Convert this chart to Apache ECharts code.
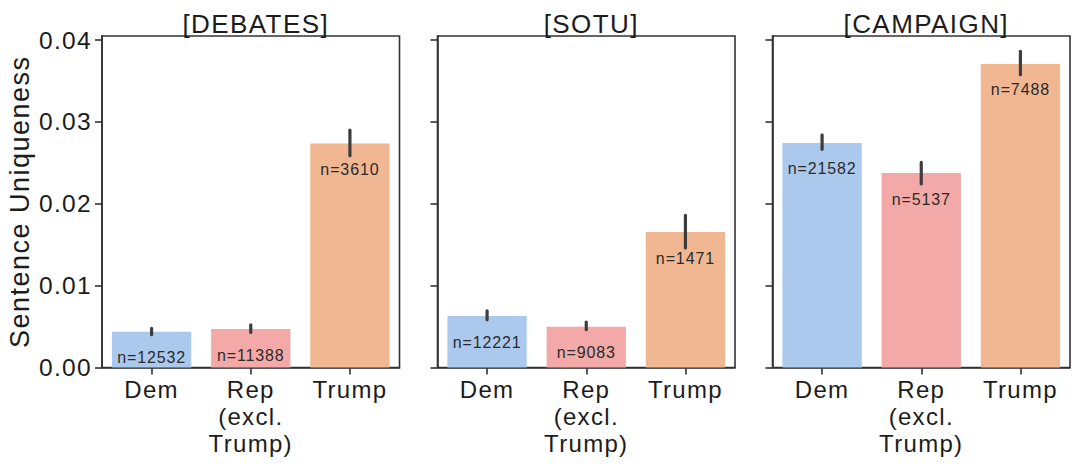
<!DOCTYPE html>
<html>
<head>
<meta charset="utf-8">
<script src="https://cdn.jsdelivr.net/npm/echarts@6/dist/echarts.min.js"></script>
<style>
html,body{margin:0;padding:0;background:#fff;}
#chart{width:1079px;height:468px;}
#chart text{letter-spacing:0.055em;}
</style>
</head>
<body>
<div id="chart"></div>
<script>
// ---- data ----
const categories = ['Dem', 'Rep\n(excl.\nTrump)', 'Trump'];
const panelTitles = ['[DEBATES]', '[SOTU]', '[CAMPAIGN]'];
const yTicks = [0, 0.01, 0.02, 0.03, 0.04];

const debatesMean = [0.00436, 0.00469, 0.02738];
const debatesLow  = [0.00400, 0.00428, 0.02588];
const debatesHigh = [0.00477, 0.00522, 0.02900];
const debatesN    = [12532, 11388, 3610];

const sotuMean = [0.00628, 0.00498, 0.01655];
const sotuLow  = [0.00583, 0.00461, 0.01460];
const sotuHigh = [0.00693, 0.00555, 0.01858];
const sotuN    = [12221, 9083, 1471];

const campaignMean = [0.02743, 0.02376, 0.03709];
const campaignLow  = [0.02665, 0.02242, 0.03578];
const campaignHigh = [0.02841, 0.02506, 0.03863];
const campaignN    = [21582, 5137, 7488];

// ---- styles ----
const barColors = ['#abc9ec', '#f3a9a8', '#f0b792'];
const FONT = "'Liberation Sans', Arial, Helvetica, sans-serif";
const INK = '#1c1c1c';
const SPINE = '#333333';

const panels = [
  {mean: debatesMean, low: debatesLow, high: debatesHigh, n: debatesN},
  {mean: sotuMean, low: sotuLow, high: sotuHigh, n: sotuN},
  {mean: campaignMean, low: campaignLow, high: campaignHigh, n: campaignN}
];

const gridLefts = [102, 437.5, 772.5];
const gridW = 297.5;
const gridTop = 36;
const gridH = 331.5;

const grids = [], xAxes = [], yAxes = [], series = [], titles = [];
panels.forEach((p, i) => {
  grids.push({left: gridLefts[i], top: gridTop, width: gridW, height: gridH,
    show: true, borderColor: SPINE, borderWidth: 1.6, backgroundColor: 'transparent', containLabel: false});
  titles.push({text: panelTitles[i], left: gridLefts[i] + gridW / 2, top: 4, textAlign: 'center',
    textStyle: {fontFamily: FONT, fontSize: 26, fontWeight: 'normal', color: INK, lineHeight: 30}});
  xAxes.push({type: 'category', gridIndex: i, data: categories,
    axisLine: {show: true, lineStyle: {color: SPINE, width: 1.6}},
    axisTick: {show: true, alignWithLabel: true, length: 7, lineStyle: {color: SPINE, width: 1.6}},
    axisLabel: {fontFamily: FONT, fontSize: 24, color: INK, lineHeight: 27, margin: 8, interval: 0},
    splitLine: {show: false}});
  yAxes.push({type: 'value', gridIndex: i, min: 0, max: 0.0405,
    name: i === 0 ? 'Sentence Uniqueness' : '', nameLocation: 'middle', nameGap: 69, nameRotate: 90,
    nameTextStyle: {fontFamily: FONT, fontSize: 27, color: INK},
    axisLine: {show: true, lineStyle: {color: SPINE, width: 1.6}},
    axisTick: {show: true, length: 7, customValues: yTicks, lineStyle: {color: SPINE, width: 1.6}},
    axisLabel: {show: i === 0, customValues: yTicks, fontFamily: FONT, fontSize: 24.5, color: INK, margin: 10,
      formatter: v => v.toFixed(2)},
    splitLine: {show: false}});
  series.push({type: 'bar', xAxisIndex: i, yAxisIndex: i, barCategoryGap: '20%',
    data: p.mean.map((v, k) => ({value: v, n: p.n[k]})),
    itemStyle: {color: params => barColors[params.dataIndex]},
    label: {show: true, position: 'insideTop', distance: 18, fontFamily: FONT, fontSize: 16, color: '#2b2b2b',
      formatter: params => 'n=' + params.data.n},
    emphasis: {disabled: true}, animation: false});
  series.push({type: 'custom', xAxisIndex: i, yAxisIndex: i, z: 10,
    data: p.low.map((lo, k) => [k, lo, p.high[k]]),
    renderItem: (params, api) => {
      const a = api.coord([api.value(0), api.value(1)]);
      const b = api.coord([api.value(0), api.value(2)]);
      return {type: 'line', shape: {x1: a[0], y1: a[1], x2: b[0], y2: b[1]},
        style: {stroke: '#3d3d3d', lineWidth: 3.2, lineCap: 'round'}};
    }, animation: false, silent: true});
});

const chart = echarts.init(document.getElementById('chart'), null, {renderer: 'svg'});
chart.setOption({backgroundColor: '#ffffff', animation: false, title: titles,
  grid: grids, xAxis: xAxes, yAxis: yAxes, series: series});
</script>
</body>
</html>
